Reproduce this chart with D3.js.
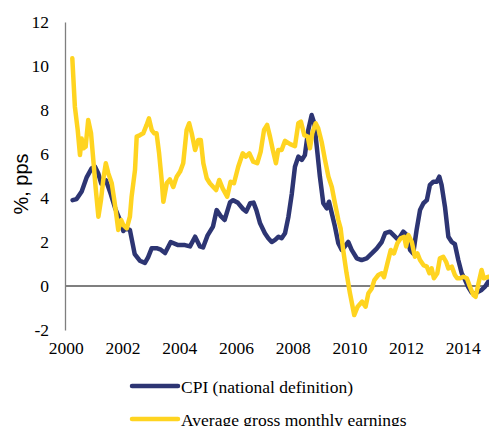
<!DOCTYPE html>
<html>
<head>
<meta charset="utf-8">
<script src="https://d3js.org/d3.v7.min.js"></script>
<style>
    body { margin: 0; background: #fff; }
    svg { display: block; }
</style>
</head>
<body>
<div id="chart"></div>
<script>
// values: [decimal year, %]
var cpiSeries = [
    [2000.24, 3.9], [2000.38, 3.95], [2000.56, 4.3], [2000.74, 4.95], [2000.91, 5.35],
    [2001.03, 5.42], [2001.15, 5.1], [2001.25, 4.65], [2001.42, 4.8], [2001.58, 4.2],
    [2001.75, 3.5], [2001.91, 3.0], [2002.03, 2.5], [2002.09, 2.62], [2002.26, 2.55],
    [2002.43, 1.45], [2002.61, 1.15], [2002.79, 1.05], [2002.9, 1.3], [2003.03, 1.72],
    [2003.2, 1.72], [2003.35, 1.65], [2003.5, 1.5], [2003.7, 2.0], [2003.96, 1.86],
    [2004.2, 1.86], [2004.38, 1.8], [2004.56, 2.24], [2004.73, 1.8], [2004.84, 1.75],
    [2005.0, 2.3], [2005.19, 2.7], [2005.32, 3.45], [2005.45, 3.2], [2005.6, 3.0],
    [2005.79, 3.8], [2005.9, 3.9], [2006.07, 3.78], [2006.25, 3.5], [2006.36, 3.38],
    [2006.5, 3.76], [2006.62, 3.79], [2006.72, 3.45], [2006.85, 2.85], [2007.02, 2.4],
    [2007.14, 2.17], [2007.26, 2.0], [2007.38, 2.1], [2007.5, 2.24], [2007.61, 2.17],
    [2007.73, 2.4], [2007.85, 3.15], [2007.97, 4.2], [2008.08, 5.42], [2008.2, 5.88],
    [2008.32, 5.73], [2008.43, 5.95], [2008.55, 7.09], [2008.67, 7.77], [2008.76, 7.4],
    [2008.85, 6.33], [2008.96, 4.97], [2009.08, 3.76], [2009.2, 3.53], [2009.28, 3.83],
    [2009.38, 3.3], [2009.49, 2.7], [2009.61, 1.94], [2009.73, 1.64], [2009.84, 1.8],
    [2009.96, 2.0], [2010.08, 1.64], [2010.26, 1.26], [2010.43, 1.18], [2010.61, 1.26],
    [2010.79, 1.48], [2010.96, 1.7], [2011.14, 2.0], [2011.26, 2.4], [2011.43, 2.47],
    [2011.61, 2.24], [2011.72, 2.1], [2011.9, 2.47], [2012.02, 2.32], [2012.14, 1.64],
    [2012.25, 1.48], [2012.37, 2.55], [2012.49, 3.45], [2012.61, 3.76], [2012.73, 3.9],
    [2012.84, 4.6], [2012.96, 4.74], [2013.08, 4.74], [2013.17, 4.97], [2013.25, 4.6],
    [2013.37, 3.6], [2013.49, 2.24], [2013.61, 2.0], [2013.72, 1.9], [2013.84, 1.18],
    [2013.96, 0.58], [2014.08, 0.27], [2014.19, -0.05], [2014.31, -0.3], [2014.42, -0.35],
    [2014.54, -0.26], [2014.66, -0.18], [2014.78, -0.03], [2014.9, 0.2]
];

var wageSeries = [
    [2000.23, 10.35], [2000.32, 8.15], [2000.42, 7.09], [2000.5, 5.95], [2000.56, 6.7],
    [2000.62, 6.26], [2000.7, 6.33], [2000.79, 7.55], [2000.89, 6.94], [2000.97, 5.73],
    [2001.05, 4.5], [2001.15, 3.15], [2001.24, 3.9], [2001.32, 4.82], [2001.41, 5.58],
    [2001.5, 5.12], [2001.62, 4.67], [2001.71, 3.9], [2001.79, 3.15], [2001.85, 2.55],
    [2001.95, 3.0], [2002.03, 2.77], [2002.15, 2.62], [2002.26, 3.15], [2002.32, 4.06],
    [2002.44, 5.27], [2002.5, 6.79], [2002.62, 6.86], [2002.73, 6.94], [2002.85, 7.32],
    [2002.93, 7.62], [2003.03, 7.09], [2003.12, 6.94], [2003.2, 6.94], [2003.29, 6.03],
    [2003.38, 4.82], [2003.44, 3.83], [2003.56, 4.67], [2003.67, 4.85], [2003.79, 4.5],
    [2003.91, 4.97], [2004.03, 5.2], [2004.14, 5.58], [2004.26, 7.09], [2004.35, 7.4],
    [2004.44, 6.94], [2004.56, 6.18], [2004.67, 6.64], [2004.76, 6.64], [2004.85, 5.58],
    [2004.97, 4.9], [2005.08, 4.67], [2005.2, 4.5], [2005.3, 4.36], [2005.41, 4.82],
    [2005.53, 4.44], [2005.69, 4.06], [2005.81, 4.74], [2005.93, 4.67], [2006.08, 5.42],
    [2006.24, 6.03], [2006.35, 5.88], [2006.47, 6.03], [2006.61, 5.65], [2006.75, 5.58],
    [2006.87, 6.1], [2006.99, 7.09], [2007.1, 7.32], [2007.2, 6.79], [2007.3, 6.18],
    [2007.41, 5.58], [2007.49, 6.18], [2007.61, 6.18], [2007.73, 6.6], [2007.91, 6.45],
    [2008.08, 6.36], [2008.2, 7.4], [2008.29, 7.47], [2008.41, 6.86], [2008.53, 6.79],
    [2008.61, 6.26], [2008.69, 6.94], [2008.81, 7.4], [2008.9, 7.17], [2009.02, 6.56],
    [2009.14, 5.73], [2009.26, 4.97], [2009.38, 4.5], [2009.49, 3.76], [2009.61, 3.0],
    [2009.69, 2.62], [2009.78, 1.64], [2009.9, 0.58], [2010.02, -0.33], [2010.17, -1.32],
    [2010.29, -0.94], [2010.45, -0.71], [2010.57, -0.94], [2010.67, -0.33], [2010.79, -0.11],
    [2010.88, 0.27], [2011.02, 0.5], [2011.14, 0.58], [2011.22, 0.4], [2011.34, 1.03],
    [2011.46, 1.64], [2011.57, 1.48], [2011.69, 1.94], [2011.81, 2.17], [2011.93, 2.24],
    [2012.0, 1.8], [2012.08, 2.32], [2012.2, 2.0], [2012.31, 1.33], [2012.4, 1.48],
    [2012.49, 1.18], [2012.61, 0.95], [2012.73, 0.88], [2012.82, 0.58], [2012.9, 0.8],
    [2012.98, 0.35], [2013.1, 0.58], [2013.19, 1.26], [2013.31, 1.33], [2013.41, 1.1],
    [2013.49, 0.8], [2013.61, 0.88], [2013.72, 0.5], [2013.8, 0.35], [2013.9, 0.35],
    [2014.02, 0.42], [2014.14, 0.35], [2014.25, -0.03], [2014.37, -0.41], [2014.45, -0.49],
    [2014.54, 0.05], [2014.66, 0.73], [2014.74, 0.35], [2014.89, 0.42]
];

var xTicks = [2000, 2002, 2004, 2006, 2008, 2010, 2012, 2014];
var yTicks = [-2, 0, 2, 4, 6, 8, 10, 12];
var seriesNames = ["CPI (national definition)", "Average gross monthly earnings"];
var seriesColors = ["#2d3573", "#ffd420"];

var width = 489,
    height = 426;

var serif = "'Liberation Serif', 'Times New Roman', serif";

var x = d3.scaleLinear()
            .domain([2000, 2015])
            .range([65.8, 491.2]);

var y = d3.scaleLinear()
            .domain([-2, 12])
            .range([330, 22]);

var svg = d3.select("#chart")
            .append("svg")
                .attr("width", width)
                .attr("height", height)
                .style("background", "#fff");

// y axis: labels only, plus the vertical rule
var yAxis = svg.append("g")
                .attr("transform", "translate(" + [65, 0] + ")")
                .call(d3.axisLeft(y)
                        .tickValues(yTicks)
                        .tickFormat(d => String(d))
                        .tickSize(0)
                        .tickPadding(16));

yAxis.select(".domain")
        .attr("stroke", "#7f7f7f")
        .attr("stroke-width", 1.3);

yAxis.selectAll("text")
        .style("font-family", serif)
        .style("font-size", "17.5px")
        .attr("fill", "#000");

// x axis labels (no rule at the bottom)
var xAxis = svg.append("g")
                .attr("transform", "translate(" + [0, 337] + ")")
                .call(d3.axisBottom(x)
                        .tickValues(xTicks)
                        .tickFormat(d => String(d))
                        .tickSize(0)
                        .tickPadding(5));

xAxis.select(".domain").remove();
xAxis.selectAll("text")
        .style("font-family", serif)
        .style("font-size", "17.5px")
        .attr("fill", "#000");

// zero line
svg.append("line")
    .attr("x1", 65)
    .attr("x2", width)
    .attr("y1", y(0))
    .attr("y2", y(0))
    .attr("stroke", "#7f7f7f")
    .attr("stroke-width", 2);

svg.append("text")
    .attr("transform", "translate(" + [28, 184] + ") rotate(-90)")
    .attr("text-anchor", "middle")
    .style("font-family", "'Liberation Sans', Arial, sans-serif")
    .style("font-size", "20px")
    .text("%, pps");

var line = d3.line()
                .x(d => x(d[0]))
                .y(d => y(d[1]));

// earnings drawn last so it sits on top, as in the original
[cpiSeries, wageSeries].forEach(function (series, i) {
    svg.append("path")
        .datum(series)
        .attr("d", line)
        .attr("fill", "none")
        .attr("stroke", seriesColors[i])
        .attr("stroke-width", 4.5)
        .attr("stroke-linejoin", "round")
        .attr("stroke-linecap", "round");
});

// legend
var legend = svg.append("g")
                .selectAll("g")
                .data(seriesNames)
                .join("g")
                    .attr("transform", (d, i) => "translate(" + [132, 386 + i * 33] + ")");

legend.append("line")
        .attr("x1", 0)
        .attr("x2", 46)
        .attr("stroke", (d, i) => seriesColors[i])
        .attr("stroke-width", 4.5)
        .attr("stroke-linecap", "round");

legend.append("text")
        .attr("x", 49)
        .attr("y", 6.5)
        .style("font-family", serif)
        .style("font-size", "17.5px")
        .text(d => d);
</script>
</body>
</html>
